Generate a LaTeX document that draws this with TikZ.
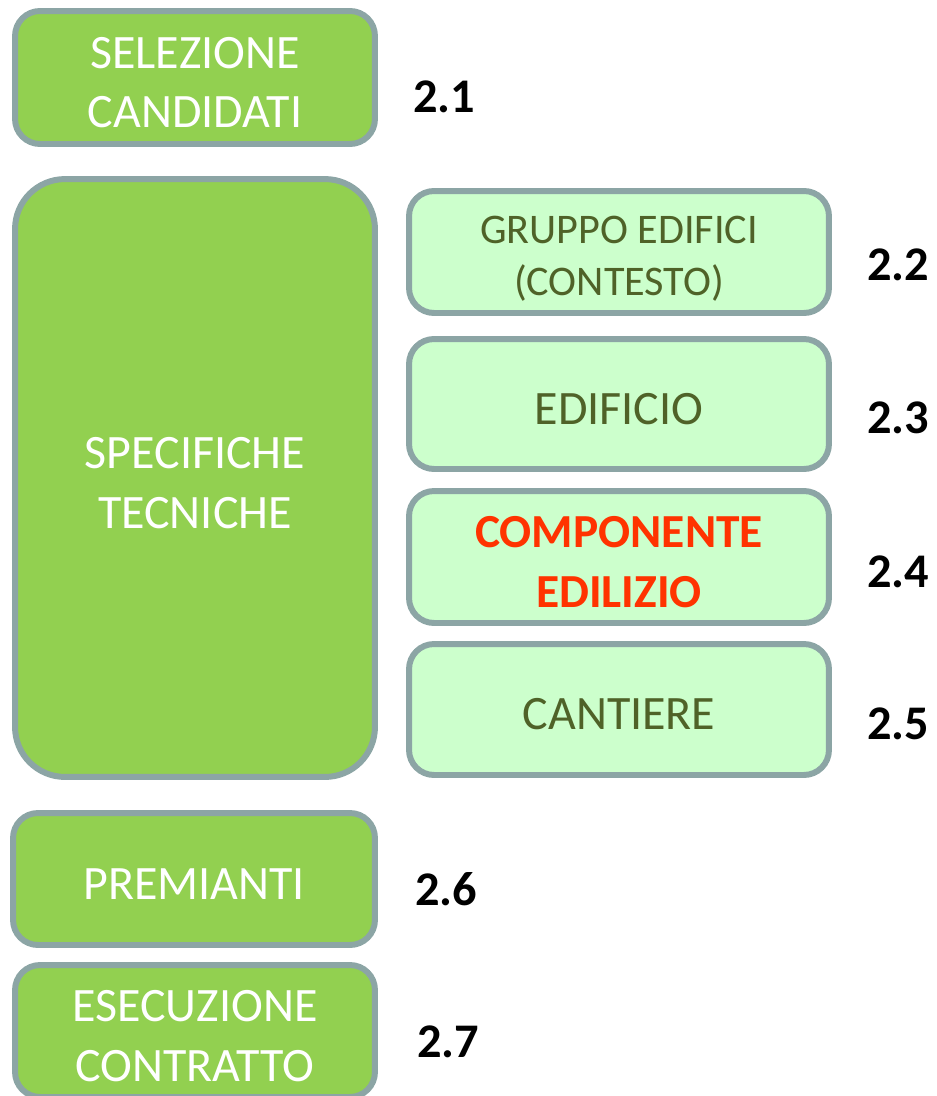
\documentclass[tikz,border=0pt]{standalone}
\usepackage{fontspec}
\setmainfont{Carlito}
\usepackage{xcolor}

\definecolor{boxgreen}{HTML}{92D050}
\definecolor{boxlight}{HTML}{CCFFCC}
\definecolor{boxedge}{HTML}{8CA5A5}
\definecolor{olivetext}{HTML}{4F6228}
\definecolor{redtext}{HTML}{FF3300}

\tikzset{
  mainbox/.style={draw=boxedge,line width=3.4pt,fill=boxgreen,rounded corners=0.5cm},
  subbox/.style={draw=boxedge,line width=3.4pt,fill=boxlight,rounded corners=0.5cm,minimum width=8.4cm},
  maintext/.style={text=white,align=center,yshift=-0.1cm,font=\fontsize{27.3}{34}\selectfont},
  subtext/.style={text=olivetext,align=center,yshift=-0.1cm,font=\fontsize{27.3}{34}\selectfont},
  numlabel/.style={font=\fontsize{27.5}{32}\selectfont\bfseries}
}

\begin{document}
\begin{tikzpicture}[x=0.02cm,y=-0.02cm]
	\useasboundingbox (0,0) rectangle (937,1096);
	\clip (0,0) rectangle (937,1096);

	% left column
	\node[mainbox,minimum width=7.2cm,minimum height=2.66cm,
		label={[maintext]center:{SELEZIONE\\CANDIDATI}}] (sel) at (195,77.5) {};
	\node[mainbox,minimum width=7.2cm,minimum height=11.96cm,rounded corners=1cm,
		label={[maintext]center:{SPECIFICHE\\TECNICHE}}] (spec) at (195,478) {};
	\node[mainbox,minimum width=7.24cm,minimum height=2.64cm,
		label={[maintext]center:PREMIANTI}] (prem) at (194,879) {};
	\node[mainbox,minimum width=7.2cm,minimum height=2.64cm,
		label={[maintext]center:{ESECUZIONE\\CONTRATTO}}] (esec) at (195,1031) {};

	% right column
	\node[subbox,minimum height=2.44cm,
		label={[subtext,yshift=-0.04cm,font=\fontsize{24}{29.5}\selectfont]center:{GRUPPO EDIFICI\\(CONTESTO)}}] (grp) at (619,252) {};
	\node[subbox,minimum height=2.6cm,
		label={[subtext]center:EDIFICIO}] (edif) at (619,404) {};
	\node[subbox,minimum height=2.64cm,
		label={[subtext,text=redtext,font=\fontsize{27}{34}\selectfont\bfseries]center:{COMPONENTE\\EDILIZIO}}] (comp) at (619,557) {};
	\node[subbox,minimum height=2.62cm,
		label={[subtext]center:CANTIERE}] (cant) at (619,709.5) {};

	% numbers
	\node[numlabel] (n21) at (444,97) {2.1};
	\node[numlabel] (n22) at (898,265) {2.2};
	\node[numlabel] (n23) at (898,418) {2.3};
	\node[numlabel] (n24) at (898,572) {2.4};
	\node[numlabel] (n25) at (898,724) {2.5};
	\node[numlabel] (n26) at (446,889) {2.6};
	\node[numlabel] (n27) at (448,1042) {2.7};
\end{tikzpicture}
\end{document}
